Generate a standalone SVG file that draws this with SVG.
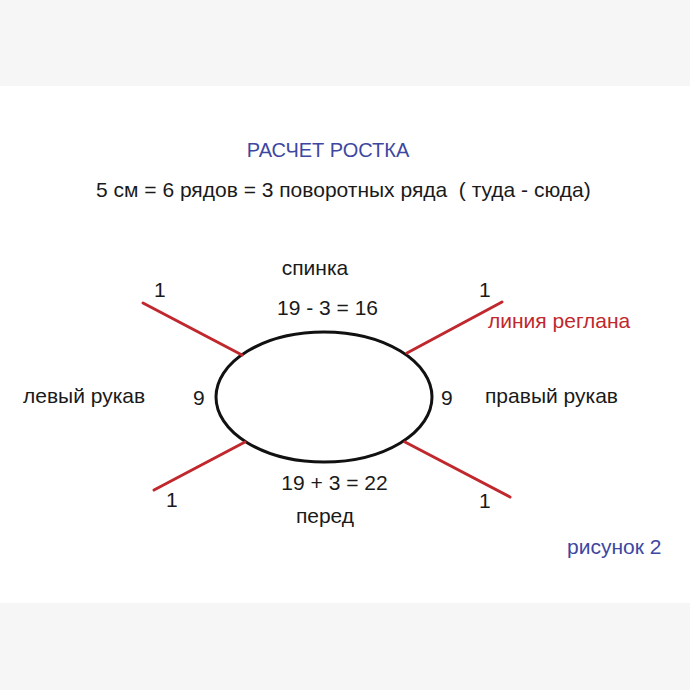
<svg xmlns="http://www.w3.org/2000/svg" width="690" height="690" viewBox="0 0 690 690">
<style>
text{font-family:"Liberation Sans",Arial,sans-serif;font-size:21px;fill:#1a1a1a}
.blue{fill:#3d47a0}
.red{fill:#c0282d}
.reg{stroke:#c0282d;stroke-width:3;stroke-linecap:round;fill:none}
</style>
<rect x="0" y="0" width="690" height="690" fill="#ffffff"/>
<rect x="0" y="0" width="690" height="86" fill="#f7f6f7"/>
<rect x="0" y="603" width="690" height="87" fill="#f7f6f7"/>
<g id="title">
<text class="blue" x="328" y="157" text-anchor="middle" style="font-size:20px">РАСЧЕТ РОСТКА</text>
<text x="96" y="197" xml:space="preserve">5 см = 6 рядов = 3 поворотных ряда  ( туда - сюда)</text>
</g>
<g id="neck">
<ellipse cx="324" cy="397" rx="108" ry="65" fill="none" stroke="#111" stroke-width="3"/>
</g>
<g id="connectors">
<line class="reg" x1="143" y1="303" x2="242" y2="355"/>
<line class="reg" x1="502" y1="302" x2="407" y2="353"/>
<line class="reg" x1="245" y1="442" x2="154" y2="490"/>
<line class="reg" x1="405" y1="442" x2="510" y2="497"/>
</g>
<g id="back">
<text x="315" y="275" text-anchor="middle">спинка</text>
<text x="327.5" y="315" text-anchor="middle">19 - 3 = 16</text>
</g>
<g id="front">
<text x="334.5" y="490" text-anchor="middle">19 + 3 = 22</text>
<text x="325" y="523" text-anchor="middle">перед</text>
</g>
<g id="left-sleeve">
<text x="23" y="403">левый рукав</text>
<text x="193" y="405">9</text>
</g>
<g id="right-sleeve">
<text x="441" y="405">9</text>
<text x="485" y="403">правый рукав</text>
</g>
<g id="counts">
<text x="154" y="297">1</text>
<text x="479" y="297">1</text>
<text x="166" y="507">1</text>
<text x="479" y="508">1</text>
</g>
<text class="red" x="488" y="328">линия реглана</text>
<text class="blue" x="567" y="554">рисунок 2</text>
</svg>
